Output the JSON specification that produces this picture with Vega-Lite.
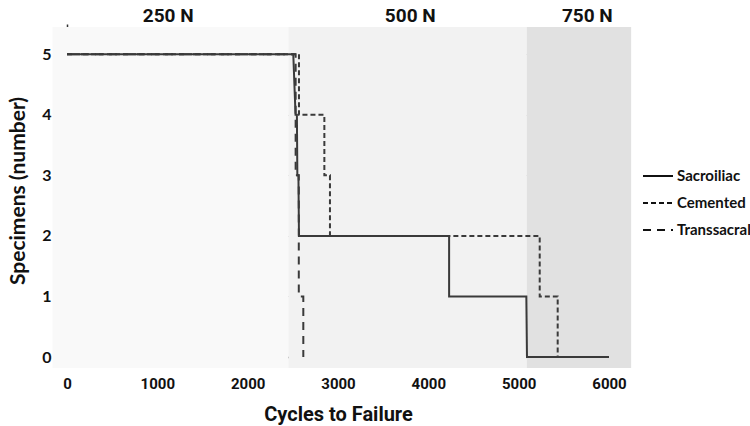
{
  "$schema": "https://vega.github.io/schema/vega-lite/v6.json",
  "width": 542,
  "height": 333,
  "autosize": "none",
  "padding": {"left": 67, "top": 24, "right": 141, "bottom": 69},
  "background": "white",
  "config": {"view": {"stroke": null}},
  "resolve": {"scale": {"x": "shared", "y": "shared"}},
  "datasets": {
    "bands": [
      {"load": "250 N", "start": -160, "end": 2450, "top": 5.45, "bottom": -0.18, "mid": 1120},
      {"load": "500 N", "start": 2450, "end": 5090, "top": 5.45, "bottom": -0.18, "mid": 3800},
      {"load": "750 N", "start": 5090, "end": 6245, "top": 5.45, "bottom": -0.18, "mid": 5760}
    ],
    "steps": [
      {"group": "Sacroiliac", "i": 1, "cycles": 0, "specimens": 5},
      {"group": "Sacroiliac", "i": 2, "cycles": 2505, "specimens": 5},
      {"group": "Sacroiliac", "i": 3, "cycles": 2530, "specimens": 4},
      {"group": "Sacroiliac", "i": 4, "cycles": 2545, "specimens": 4},
      {"group": "Sacroiliac", "i": 5, "cycles": 2550, "specimens": 3},
      {"group": "Sacroiliac", "i": 6, "cycles": 2562, "specimens": 3},
      {"group": "Sacroiliac", "i": 7, "cycles": 2568, "specimens": 2},
      {"group": "Sacroiliac", "i": 8, "cycles": 4230, "specimens": 2},
      {"group": "Sacroiliac", "i": 9, "cycles": 4230, "specimens": 1},
      {"group": "Sacroiliac", "i": 10, "cycles": 5085, "specimens": 1},
      {"group": "Sacroiliac", "i": 11, "cycles": 5092, "specimens": 0},
      {"group": "Sacroiliac", "i": 12, "cycles": 6000, "specimens": 0},
      {"group": "Cemented", "i": 1, "cycles": 0, "specimens": 5},
      {"group": "Cemented", "i": 2, "cycles": 2568, "specimens": 5},
      {"group": "Cemented", "i": 3, "cycles": 2568, "specimens": 4},
      {"group": "Cemented", "i": 4, "cycles": 2849, "specimens": 4},
      {"group": "Cemented", "i": 5, "cycles": 2849, "specimens": 3},
      {"group": "Cemented", "i": 6, "cycles": 2911, "specimens": 3},
      {"group": "Cemented", "i": 7, "cycles": 2911, "specimens": 2},
      {"group": "Cemented", "i": 8, "cycles": 5233, "specimens": 2},
      {"group": "Cemented", "i": 9, "cycles": 5233, "specimens": 1},
      {"group": "Cemented", "i": 10, "cycles": 5432, "specimens": 1},
      {"group": "Cemented", "i": 11, "cycles": 5432, "specimens": 0},
      {"group": "Transsacral", "i": 1, "cycles": 0, "specimens": 5},
      {"group": "Transsacral", "i": 2, "cycles": 2531, "specimens": 5},
      {"group": "Transsacral", "i": 3, "cycles": 2531, "specimens": 3},
      {"group": "Transsacral", "i": 4, "cycles": 2566, "specimens": 3},
      {"group": "Transsacral", "i": 5, "cycles": 2566, "specimens": 1},
      {"group": "Transsacral", "i": 6, "cycles": 2616, "specimens": 1},
      {"group": "Transsacral", "i": 7, "cycles": 2616, "specimens": 0}
    ]
  },
  "layer": [
    {
      "data": {"name": "bands"},
      "mark": {"type": "rect", "clip": false},
      "encoding": {
        "x": {"field": "start", "type": "quantitative", "scale": {"domain": [0, 6000], "nice": false, "zero": false}},
        "x2": {"field": "end"},
        "y": {"field": "top", "type": "quantitative", "scale": {"domain": [0, 5.5], "nice": false, "zero": false}},
        "y2": {"field": "bottom"},
        "color": {
          "field": "load", "type": "nominal",
          "scale": {"domain": ["250 N", "500 N", "750 N"], "range": ["#f9f9f9", "#f2f2f2", "#e1e1e1"]},
          "legend": null
        }
      }
    },
    {
      "data": {"name": "bands"},
      "mark": {"type": "text", "clip": false, "font": "Roboto", "fontWeight": "bold", "fontSize": 19, "color": "#111111", "baseline": "middle", "align": "center"},
      "encoding": {
        "x": {"field": "mid", "type": "quantitative", "scale": {"domain": [0, 6000], "nice": false, "zero": false}},
        "y": {"datum": 5.64, "type": "quantitative", "scale": {"domain": [0, 5.5], "nice": false, "zero": false}},
        "text": {"field": "load"}
      }
    },
    {
      "data": {"name": "steps"},
      "mark": {"type": "line", "color": "#3a3a3a", "strokeWidth": 2, "interpolate": "linear", "clip": false},
      "encoding": {
        "x": {
          "field": "cycles", "type": "quantitative",
          "scale": {"domain": [0, 6000], "nice": false, "zero": false},
          "axis": {
            "title": "Cycles to Failure", "values": [0, 1000, 2000, 3000, 4000, 5000, 6000], "format": "d",
            "labelFlush": false, "labelOverlap": false,
            "grid": false, "domainColor": "#333333", "domainWidth": 1.5, "tickColor": "#333333", "tickWidth": 1.5, "tickSize": 5,
            "labelFont": "Roboto", "labelFontWeight": "bold", "labelFontSize": 15, "labelColor": "#111111", "labelPadding": 14,
            "titleFont": "Roboto", "titleFontWeight": "bold", "titleFontSize": 20, "titleColor": "#111111", "titlePadding": 13
          }
        },
        "y": {
          "field": "specimens", "type": "quantitative",
          "scale": {"domain": [0, 5.5], "nice": false, "zero": false},
          "axis": {
            "title": "Specimens (number)", "values": [0, 1, 2, 3, 4, 5], "format": "d",
            "labelFlush": false,
            "grid": true, "gridColor": "#c4c4c4", "gridWidth": 1,
            "domainColor": "#333333", "domainWidth": 1.5, "tickColor": "#333333", "tickWidth": 1.5, "tickSize": 5,
            "labelFont": "Lato", "labelFontWeight": "bold", "labelFontSize": 16, "labelColor": "#111111", "labelPadding": 11,
            "titleFont": "Lato", "titleFontWeight": "bold", "titleFontSize": 21, "titleColor": "#111111", "titlePadding": 13
          }
        },
        "order": {"field": "i", "type": "quantitative"},
        "detail": {"field": "group"},
        "strokeDash": {
          "field": "group", "type": "nominal",
          "scale": {"domain": ["Sacroiliac", "Cemented", "Transsacral"], "range": [[1, 0], [5, 3], [8, 6]]},
          "legend": {
            "title": null, "orient": "none", "legendX": 575, "legendY": 136,
            "symbolType": "stroke", "symbolSize": 900, "symbolStrokeWidth": 2, "symbolStrokeColor": "#111111",
            "labelFont": "Lato", "labelFontWeight": "bold", "labelFontSize": 15, "labelColor": "#111111", "labelOffset": 3,
            "rowPadding": 3
          }
        }
      }
    }
  ]
}
